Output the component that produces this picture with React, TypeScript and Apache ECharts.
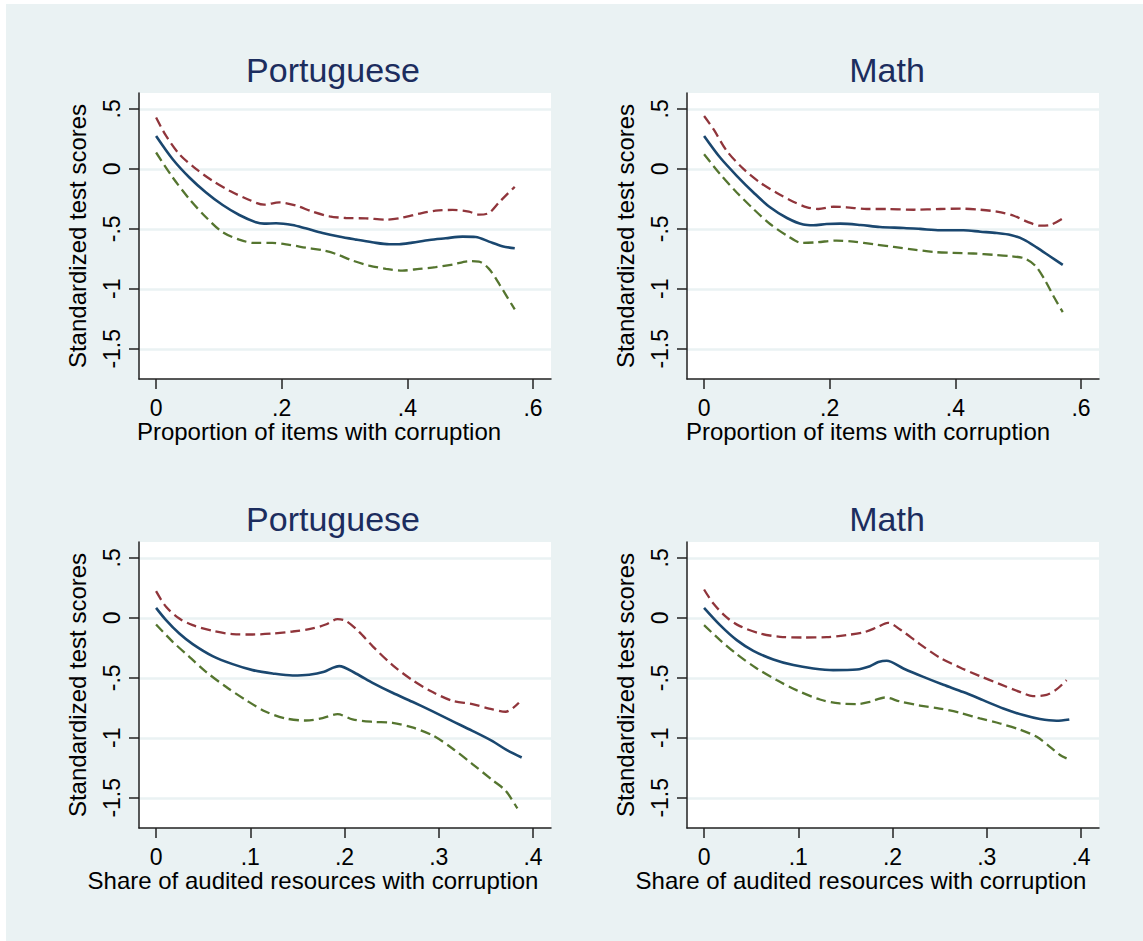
import React, { useEffect, useRef } from "react";
import * as echarts from "echarts";

// ---------- Data ----------
const xTicksItems = [0, 0.2, 0.4, 0.6];
const xTicksShare = [0, 0.1, 0.2, 0.3, 0.4];
const yTicks = [-1.5, -1, -0.5, 0, 0.5];
const panelTitles = ["Portuguese", "Math", "Portuguese", "Math"];
const xTitles = [
  "Proportion of items with corruption",
  "Proportion of items with corruption",
  "Share of audited resources with corruption",
  "Share of audited resources with corruption",
];
const yTitle = "Standardized test scores";

// Top-left: Portuguese vs proportion of items
const ptItemsFit: number[][] = [
  [0, 0.274], [0.0265, 0.08], [0.053, -0.072], [0.0795, -0.197], [0.106, -0.302],
  [0.1325, -0.385], [0.159, -0.446], [0.172, -0.457], [0.191, -0.454], [0.217, -0.468],
  [0.238, -0.496], [0.265, -0.535], [0.291, -0.565], [0.318, -0.59], [0.344, -0.612],
  [0.371, -0.629], [0.387, -0.629], [0.408, -0.615], [0.435, -0.593], [0.461, -0.579],
  [0.488, -0.565], [0.509, -0.568], [0.53, -0.607], [0.551, -0.645], [0.571, -0.662],
];
const ptItemsUp: number[][] = [
  [0, 0.427], [0.016, 0.274], [0.037, 0.122], [0.064, -0.003], [0.09, -0.1],
  [0.117, -0.183], [0.143, -0.247], [0.172, -0.299], [0.196, -0.28], [0.223, -0.307],
  [0.249, -0.357], [0.276, -0.396], [0.302, -0.41], [0.334, -0.413], [0.366, -0.424],
  [0.392, -0.407], [0.419, -0.374], [0.445, -0.349], [0.472, -0.343], [0.498, -0.357],
  [0.514, -0.382], [0.53, -0.368], [0.546, -0.28], [0.559, -0.211], [0.571, -0.15],
];
const ptItemsLo: number[][] = [
  [0, 0.136], [0.0265, -0.072], [0.053, -0.252], [0.0795, -0.404], [0.106, -0.529],
  [0.1325, -0.59], [0.156, -0.618], [0.185, -0.618], [0.212, -0.634], [0.238, -0.657],
  [0.265, -0.679], [0.286, -0.709], [0.313, -0.765], [0.339, -0.806], [0.366, -0.834],
  [0.392, -0.848], [0.419, -0.834], [0.445, -0.82], [0.472, -0.798], [0.498, -0.77],
  [0.514, -0.773], [0.53, -0.834], [0.546, -0.958], [0.559, -1.069], [0.571, -1.172],
];

// Top-right: Math vs proportion of items
const mtItemsFit: number[][] = [
  [0, 0.274], [0.0255, 0.094], [0.052, -0.058], [0.0786, -0.197], [0.105, -0.321],
  [0.132, -0.41], [0.158, -0.465], [0.174, -0.471], [0.195, -0.46], [0.217, -0.457],
  [0.249, -0.468], [0.28, -0.485], [0.318, -0.493], [0.344, -0.501], [0.376, -0.512],
  [0.413, -0.512], [0.44, -0.524], [0.466, -0.535], [0.488, -0.551], [0.509, -0.59],
  [0.53, -0.657], [0.551, -0.731], [0.571, -0.801],
];
const mtItemsUp: number[][] = [
  [0, 0.44], [0.015, 0.33], [0.036, 0.15], [0.063, -0.003], [0.089, -0.114],
  [0.116, -0.202], [0.142, -0.274], [0.164, -0.321], [0.182, -0.335], [0.206, -0.316],
  [0.227, -0.321], [0.259, -0.335], [0.291, -0.335], [0.334, -0.341], [0.376, -0.335],
  [0.408, -0.332], [0.44, -0.341], [0.466, -0.357], [0.493, -0.391], [0.514, -0.44],
  [0.535, -0.474], [0.551, -0.468], [0.571, -0.413],
];
const mtItemsLo: number[][] = [
  [0, 0.122], [0.0255, -0.044], [0.052, -0.197], [0.0786, -0.335], [0.105, -0.46],
  [0.132, -0.557], [0.156, -0.618], [0.18, -0.612], [0.211, -0.598], [0.238, -0.607],
  [0.27, -0.629], [0.302, -0.651], [0.334, -0.673], [0.365, -0.693], [0.397, -0.701],
  [0.429, -0.706], [0.461, -0.717], [0.488, -0.729], [0.509, -0.745], [0.527, -0.806],
  [0.543, -0.931], [0.557, -1.069], [0.571, -1.194],
];

// Bottom-left: Portuguese vs share of audited resources
const ptShareFit: number[][] = [
  [0, 0.083], [0.0106, -0.019], [0.0247, -0.131], [0.0389, -0.219], [0.06, -0.319],
  [0.0813, -0.386], [0.1025, -0.436], [0.1237, -0.464], [0.1449, -0.481], [0.1625, -0.475],
  [0.1784, -0.45], [0.1873, -0.417], [0.1943, -0.403], [0.212, -0.464], [0.2297, -0.542],
  [0.2509, -0.625], [0.272, -0.7], [0.293, -0.778], [0.3145, -0.861], [0.3357, -0.942],
  [0.357, -1.028], [0.371, -1.097], [0.388, -1.164],
];
const ptShareUp: number[][] = [
  [0, 0.222], [0.0106, 0.092], [0.0247, -0.006], [0.0389, -0.061], [0.06, -0.108],
  [0.0813, -0.136], [0.1025, -0.139], [0.1237, -0.131], [0.1449, -0.114], [0.166, -0.089],
  [0.18, -0.056], [0.1926, -0.011], [0.2014, -0.025], [0.2155, -0.117], [0.2297, -0.236],
  [0.2509, -0.394], [0.272, -0.519], [0.293, -0.617], [0.3145, -0.692], [0.3357, -0.719],
  [0.3534, -0.756], [0.371, -0.783], [0.385, -0.708],
];
const ptShareLo: number[][] = [
  [0, -0.056], [0.0177, -0.2], [0.0353, -0.325], [0.053, -0.45], [0.0742, -0.575],
  [0.0954, -0.686], [0.1166, -0.783], [0.1378, -0.839], [0.159, -0.856], [0.1767, -0.836],
  [0.1926, -0.803], [0.2085, -0.847], [0.2297, -0.867], [0.2509, -0.875], [0.272, -0.914],
  [0.293, -0.978], [0.3145, -1.089], [0.3357, -1.219], [0.357, -1.353], [0.371, -1.442],
  [0.3834, -1.589],
];

// Bottom-right: Math vs share of audited resources
const mtShareFit: number[][] = [
  [0, 0.083], [0.017, -0.061], [0.0347, -0.186], [0.0523, -0.275], [0.0735, -0.347],
  [0.0948, -0.394], [0.116, -0.422], [0.137, -0.436], [0.162, -0.431], [0.176, -0.403],
  [0.185, -0.369], [0.1938, -0.358], [0.2115, -0.422], [0.2327, -0.492], [0.254, -0.558],
  [0.275, -0.619], [0.296, -0.686], [0.3175, -0.756], [0.3388, -0.811], [0.3564, -0.844],
  [0.374, -0.858], [0.3876, -0.847],
];
const mtShareUp: number[][] = [
  [0, 0.236], [0.0099, 0.119], [0.024, 0.003], [0.038, -0.069], [0.0594, -0.131],
  [0.0806, -0.158], [0.105, -0.164], [0.13, -0.161], [0.151, -0.144], [0.169, -0.122],
  [0.183, -0.081], [0.195, -0.042], [0.208, -0.097], [0.229, -0.219], [0.25, -0.331],
  [0.2716, -0.414], [0.2928, -0.486], [0.314, -0.553], [0.335, -0.617], [0.349, -0.653],
  [0.3635, -0.642], [0.374, -0.597], [0.3847, -0.519],
];
const mtShareLo: number[][] = [
  [0, -0.061], [0.017, -0.186], [0.0347, -0.303], [0.056, -0.422], [0.077, -0.519],
  [0.098, -0.603], [0.123, -0.681], [0.144, -0.714], [0.162, -0.719], [0.176, -0.7],
  [0.192, -0.664], [0.208, -0.697], [0.229, -0.731], [0.25, -0.756], [0.2716, -0.792],
  [0.2928, -0.839], [0.314, -0.881], [0.335, -0.931], [0.353, -0.992], [0.367, -1.075],
  [0.3777, -1.144], [0.3847, -1.172],
];

const panelFits = [ptItemsFit, mtItemsFit, ptShareFit, mtShareFit];
const panelUps = [ptItemsUp, mtItemsUp, ptShareUp, mtShareUp];
const panelLos = [ptItemsLo, mtItemsLo, ptShareLo, mtShareLo];

// ---------- Styling ----------
const FONT = "'Liberation Sans', Arial, Helvetica, sans-serif";
const BG = "#EAF2F3";
const NAVY = "#1a476f";
const MAROON = "#90353b";
const GREEN = "#55752f";
const TITLE_COLOR = "#1c2d5e";
const AXIS_COLOR = "#222222";

const gridPos = [
  { left: 139, top: 93, width: 412, height: 286 },
  { left: 687, top: 93, width: 412, height: 286 },
  { left: 139, top: 542, width: 412, height: 286 },
  { left: 687, top: 542, width: 412, height: 286 },
];
const titlePos = [
  { x: 333, y: 70 },
  { x: 887, y: 70 },
  { x: 333, y: 519 },
  { x: 887, y: 519 },
];
// leftward shift of the x-axis titles relative to the plot centre (px)
const xTitleShift = [26, 25, 32, 32];

const fmt = (v: number) => {
  const s = String(Math.round(v * 10) / 10);
  return s.replace(/^0\./, ".").replace(/^-0\./, "-.");
};

export default function App() {
  const ref = useRef<HTMLDivElement>(null);

  useEffect(() => {
    if (!ref.current) return;
    const chart = echarts.init(ref.current, undefined, { renderer: "svg" });

    const xAxis = [0, 1, 2, 3].map((i) => {
      const top = i < 2;
      const ticks = top ? xTicksItems : xTicksShare;
      return {
        type: "value",
        gridIndex: i,
        min: top ? -0.0272 : -0.0181,
        max: top ? 0.6287 : 0.4191,
        name: xTitles[i],
        nameLocation: "middle",
        nameGap: 40,
        nameTextStyle: {
          fontFamily: FONT,
          fontSize: 24,
          color: "#000",
          padding: [0, xTitleShift[i] * 2, 0, 0],
        },
        axisLine: { show: true, onZero: false, lineStyle: { color: AXIS_COLOR, width: 1.5 } },
        axisTick: { show: true, length: 10, inside: false, customValues: ticks, lineStyle: { color: AXIS_COLOR, width: 1.5 } },
        axisLabel: { customValues: ticks, formatter: fmt, margin: 17, fontFamily: FONT, fontSize: 23, color: "#000" },
        splitLine: { show: false },
      };
    });

    const yAxis = [0, 1, 2, 3].map((i) => ({
      type: "value",
      gridIndex: i,
      min: -1.752,
      max: 0.632,
      name: yTitle,
      nameLocation: "middle",
      nameRotate: 90,
      nameGap: 50,
      nameTextStyle: { fontFamily: FONT, fontSize: 24, color: "#000" },
      axisLine: { show: true, onZero: false, lineStyle: { color: AXIS_COLOR, width: 1.5 } },
      axisTick: { show: true, length: 10, inside: false, customValues: yTicks, lineStyle: { color: AXIS_COLOR, width: 1.5 } },
      axisLabel: { customValues: yTicks, formatter: fmt, rotate: 90, margin: 16, fontFamily: FONT, fontSize: 23, color: "#000" },
      splitLine: { show: true, lineStyle: { color: BG, width: 2.5 } },
    }));

    const series: any[] = [];
    for (let i = 0; i < 4; i++) {
      series.push({
        type: "line",
        xAxisIndex: i,
        yAxisIndex: i,
        data: panelUps[i],
        showSymbol: false,
        smooth: 0.3,
        lineStyle: { color: MAROON, width: 2.3, type: [10, 5] },
        z: 3,
      });
      series.push({
        type: "line",
        xAxisIndex: i,
        yAxisIndex: i,
        data: panelLos[i],
        showSymbol: false,
        smooth: 0.3,
        lineStyle: { color: GREEN, width: 2.3, type: [10, 5] },
        z: 3,
      });
      series.push({
        type: "line",
        xAxisIndex: i,
        yAxisIndex: i,
        data: panelFits[i],
        showSymbol: false,
        smooth: 0.3,
        lineStyle: { color: NAVY, width: 2.6 },
        z: 4,
      });
    }

    const graphic: any[] = [
      { type: "rect", shape: { x: 0, y: 0, width: 1143, height: 4 }, style: { fill: "#fff" }, silent: true },
      { type: "rect", shape: { x: 0, y: 0, width: 6, height: 941 }, style: { fill: "#fff" }, silent: true },
      ...titlePos.map((p, i) => ({
        type: "text",
        x: p.x,
        y: p.y,
        silent: true,
        style: {
          text: panelTitles[i],
          fontFamily: FONT,
          fontSize: 34,
          fill: TITLE_COLOR,
          textAlign: "center",
          textVerticalAlign: "middle",
        },
      })),
    ];

    chart.setOption({
      animation: false,
      backgroundColor: BG,
      grid: gridPos.map((g) => ({
        ...g,
        show: true,
        backgroundColor: "#ffffff",
        borderWidth: 0,
        containLabel: false,
      })),
      xAxis,
      yAxis,
      series,
      graphic,
    });

    return () => chart.dispose();
  }, []);

  return (
    <div
      ref={ref}
      style={{ position: "absolute", left: 0, top: 0, width: 1143, height: 941 }}
    />
  );
}
